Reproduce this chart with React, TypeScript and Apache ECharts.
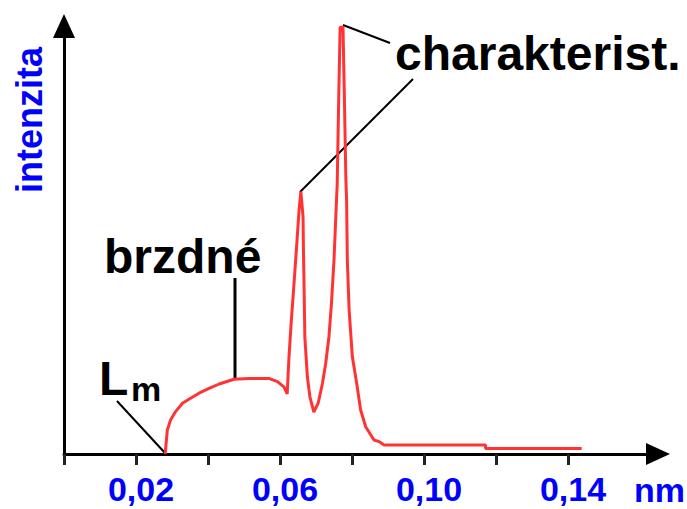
import React, { useEffect, useRef } from "react";
import * as echarts from "echarts";

// wavelength (nm) of the spectrum points
const wavelengths = [
  0.0281, 0.0287, 0.0296, 0.031, 0.0329, 0.0347, 0.0375, 0.0403, 0.0431, 0.0472,
  0.0514, 0.0569, 0.0593, 0.0611, 0.062, 0.0625, 0.0631, 0.0639, 0.0648, 0.0653,
  0.0658, 0.0664, 0.0665, 0.0667, 0.0669, 0.0676, 0.0683, 0.0694, 0.0706, 0.0718,
  0.0727, 0.0736, 0.0743, 0.075, 0.0755, 0.0759, 0.0763, 0.0767, 0.0775, 0.0779,
  0.0783, 0.0785, 0.0787, 0.0792, 0.0801, 0.0813, 0.0824, 0.0838, 0.0861, 0.0875,
  0.0889, 0.1171, 0.1171, 0.1438,
];
// intensity (arbitrary units)
const intensities = [
  0, 6.0, 8.5, 10.6, 12.7, 13.7, 15.2, 16.4, 17.5, 18.7,
  18.9, 18.9, 18.1, 16.8, 15.0, 24.3, 32.7, 42.7, 54.3, 61.0,
  65.6, 59.3, 51.8, 41.0, 29.3, 19.3, 14.3, 10.5, 12.7, 17.7,
  22.7, 29.3, 37.7, 48.5, 59.3, 67.7, 88.5, 106.7, 106.7, 88.5,
  68.5, 63.5, 48.5, 36.0, 24.3, 17.7, 11.0, 6.8, 3.5, 3.1,
  2.25, 2.25, 1.4, 1.4,
];
const tickValues = [0, 0.02, 0.04, 0.06, 0.08, 0.1, 0.12, 0.14];
const labelValues = [0.02, 0.06, 0.1, 0.14];

const FONT = '"Liberation Sans", Arial, Helvetica, sans-serif';

export default function App() {
  const ref = useRef<HTMLDivElement>(null);
  useEffect(() => {
    if (!ref.current) return;
    const chart = echarts.init(ref.current, null, { renderer: "svg" });
    const data = wavelengths.map((x, i) => [x, intensities[i]]);
    chart.setOption({
      animation: false,
      backgroundColor: "#ffffff",
      grid: { left: 64, right: 29, top: 26, bottom: 55 },
      xAxis: {
        type: "value",
        min: 0,
        max: 0.165,
        axisLine: {
          show: true,
          lineStyle: { color: "#000", width: 3 },
          symbol: ["none", "triangle"],
          symbolSize: [22, 24],
        },
        axisTick: {
          show: true,
          length: 11,
          inside: false,
          customValues: tickValues,
          lineStyle: { color: "#222", width: 3 },
        },
        axisLabel: {
          show: true,
          customValues: labelValues,
          margin: 21,
          lineHeight: 28,
          padding: [0, 0, 0, 10],
          color: "#0000ff",
          fontSize: 34,
          fontWeight: "bold",
          fontFamily: FONT,
          formatter: (v: number) => v.toFixed(2).replace(".", ","),
        },
        splitLine: { show: false },
      },
      yAxis: {
        type: "value",
        min: 0,
        max: 107,
        axisLine: {
          show: true,
          lineStyle: { color: "#000", width: 3 },
          symbol: ["none", "triangle"],
          symbolSize: [22, 24],
        },
        axisTick: { show: false },
        axisLabel: { show: false },
        splitLine: { show: false },
      },
      series: [
        {
          type: "line",
          data,
          showSymbol: false,
          symbol: "none",
          clip: false,
          lineStyle: { color: "#ff3333", width: 3 },
          z: 3,
        },
      ],
      graphic: [
        {
          type: "text",
          x: 29,
          y: 120,
          rotation: Math.PI / 2,
          style: {
            text: "intenzita",
            fill: "#0000ff",
            font: `bold 36px ${FONT}`,
            textAlign: "center",
            textVerticalAlign: "middle",
          },
        },
        {
          type: "text",
          x: 634,
          y: 490,
          style: {
            text: "nm",
            fill: "#0000ff",
            font: `bold 34px ${FONT}`,
            lineHeight: 28,
            textAlign: "left",
            textVerticalAlign: "middle",
          },
        },
        {
          type: "text",
          x: 395,
          y: 53,
          style: {
            text: "charakterist.",
            fill: "#000",
            font: `bold 48px ${FONT}`,
            textAlign: "left",
            textVerticalAlign: "middle",
          },
        },
        {
          type: "text",
          x: 104,
          y: 256,
          style: {
            text: "brzdné",
            fill: "#000",
            font: `bold 48px ${FONT}`,
            textAlign: "left",
            textVerticalAlign: "middle",
          },
        },
        {
          type: "text",
          x: 99,
          y: 378,
          style: {
            text: "L",
            fill: "#000",
            font: `bold 48px ${FONT}`,
            textAlign: "left",
            textVerticalAlign: "middle",
          },
        },
        {
          type: "text",
          x: 131,
          y: 389,
          style: {
            text: "m",
            fill: "#000",
            font: `bold 34px ${FONT}`,
            textAlign: "left",
            textVerticalAlign: "middle",
          },
        },
        {
          type: "line",
          shape: { x1: 343, y1: 25, x2: 390, y2: 43 },
          style: { stroke: "#000", lineWidth: 2 },
        },
        {
          type: "line",
          shape: { x1: 300, y1: 192, x2: 413, y2: 79 },
          style: { stroke: "#000", lineWidth: 2 },
        },
        {
          type: "line",
          shape: { x1: 235, y1: 278, x2: 235, y2: 378 },
          style: { stroke: "#000", lineWidth: 3 },
        },
        {
          type: "line",
          shape: { x1: 117, y1: 401, x2: 165, y2: 453 },
          style: { stroke: "#000", lineWidth: 2 },
        },
      ],
    });
    return () => chart.dispose();
  }, []);
  return (
    <div
      ref={ref}
      style={{ position: "fixed", left: 0, top: 0, width: 687, height: 509, background: "#fff" }}
    />
  );
}
